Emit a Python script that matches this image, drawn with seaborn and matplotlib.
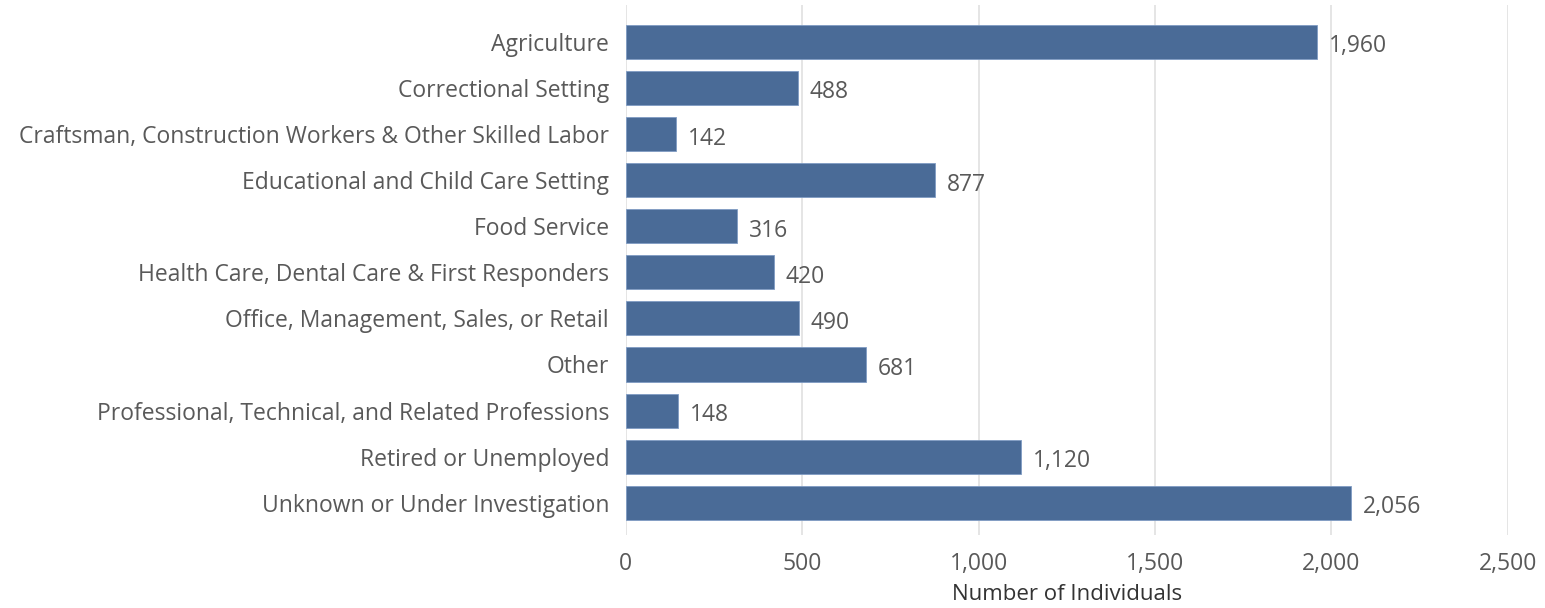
"""Horizontal bar chart: individuals by occupation."""

import pandas as pd
import matplotlib.pyplot as plt
import seaborn as sns

categories = [
    "Agriculture",
    "Correctional Setting",
    "Craftsman, Construction Workers & Other Skilled Labor",
    "Educational and Child Care Setting",
    "Food Service",
    "Health Care, Dental Care & First Responders",
    "Office, Management, Sales, or Retail",
    "Other",
    "Professional, Technical, and Related Professions",
    "Retired or Unemployed",
    "Unknown or Under Investigation",
]
counts = [1960, 488, 142, 877, 316, 420, 490, 681, 148, 1120, 2056]
x_ticks = [0, 500, 1000, 1500, 2000, 2500]

BAR_COLOR = "#4a6b97"
TEXT_COLOR = "#595959"


def main():
    df = pd.DataFrame({"category": categories, "count": counts})

    sns.set_style("white")
    plt.rcParams["font.family"] = ["Open Sans", "DejaVu Sans"]

    fig = plt.figure(figsize=(15.45, 6.08), dpi=100)
    ax = fig.add_axes([0.405, 0.12, 0.571, 0.872])

    sns.barplot(data=df, x="count", y="category", color=BAR_COLOR,
                saturation=1, width=0.74, ax=ax, edgecolor="#7f9cc4", linewidth=0.6)

    for i, v in enumerate(counts):
        ax.text(v + 34, i + 0.1, f"{v:,}", va="center", ha="left",
                fontsize=16.5, color=TEXT_COLOR)

    ax.set_xlim(0, 2500)
    ax.set_ylim(10.7, -0.8)
    ax.set_xticks(x_ticks)
    ax.set_xticklabels([f"{t:,}" for t in x_ticks])
    ax.xaxis.grid(True, color="#e0e0e0", linewidth=1.2)
    ax.set_axisbelow(True)
    for s in ax.spines.values():
        s.set_visible(False)
    ax.tick_params(axis="y", length=0, labelsize=16.5, labelcolor=TEXT_COLOR, pad=12)
    ax.tick_params(axis="x", length=0, labelsize=16.5, labelcolor=TEXT_COLOR, pad=12)
    ax.set_ylabel("")
    ax.set_xlabel("Number of Individuals", fontsize=16, color="#333333", labelpad=6)

    fig.savefig("out.png", dpi=100)


if __name__ == "__main__":
    main()
